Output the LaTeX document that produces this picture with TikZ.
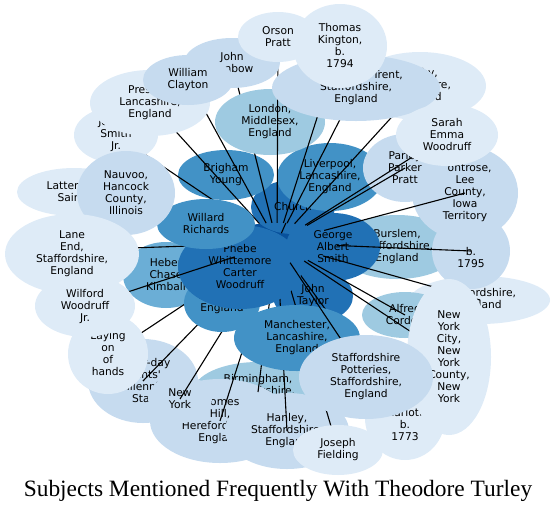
\documentclass[tikz,border=0pt]{standalone}
\usepackage{fontspec}
\usetikzlibrary{shapes.geometric}
\newfontfamily\nodefont{DejaVu Sans}
\newfontfamily\titlefont{Liberation Serif}
\definecolor{bA}{HTML}{DEEBF7}
\definecolor{bB}{HTML}{C6DBEF}
\definecolor{bC}{HTML}{9ECAE1}
\definecolor{bD}{HTML}{6BAED6}
\definecolor{bE}{HTML}{4292C6}
\definecolor{bF}{HTML}{2171B5}
\definecolor{bG}{HTML}{08519C}
\begin{document}
\begin{tikzpicture}[x=1pt,y=-1pt,
  nd/.style={ellipse, draw=none, inner sep=0pt, align=center,
    font=\nodefont\fontsize{10.7}{12}\selectfont, text=black},
  edge/.style={draw=black, line width=1.1pt}]
\useasboundingbox (0,0) rectangle (556,512);
% centre
\node[nd,fill=bG,minimum width=120,minimum height=40] (turley) at (277,243) {};
% lower layer nodes
\node[nd,fill=bF,minimum width=84,minimum height=54] (church) at (293,207) {Church};
\draw[edge] (turley) -- (church);
\node[nd,fill=bE,minimum width=96,minimum height=50] (brigham) at (226,175) {Brigham\\Young};
\node[nd,fill=bE,minimum width=106,minimum height=68] (liverpool) at (330,177) {Liverpool,\\Lancashire,\\England};
\node[nd,fill=bC,minimum width=124,minimum height=64] (burslem) at (397,247) {Burslem,\\Staffordshire,\\England};
\node[nd,fill=bF,minimum width=94,minimum height=68] (george) at (333,247) {George\\Albert\\Smith};
\node[nd,fill=bD,minimum width=86,minimum height=66] (heber) at (166,275) {Heber\\Chase\\Kimball};
\node[nd,fill=bA,minimum width=140,minimum height=48] (staffeng) at (480,300) {Staffordshire,\\England};
\node[nd,fill=bB,minimum width=78,minimum height=76] (b1795) at (471,251) {\strut\\b.\\1795};
\node[nd,fill=bB,minimum width=106,minimum height=94] (montrose) at (465,193) {Montrose,\\Lee\\County,\\Iowa\\Territory};
\node[nd,fill=bB,minimum width=84,minimum height=68] (parley) at (405,168) {Parley\\Parker\\Pratt};
\node[nd,fill=bF,minimum width=80,minimum height=54] (taylor) at (313,296) {John\\Taylor};
\node[nd,fill=bC,minimum width=86,minimum height=46] (alfred) at (405,315) {Alfred\\Cordon};
\node[nd,fill=bC,minimum width=130,minimum height=60] (birmingham) at (258,392) {Birmingham,\\Warwickshire,\\England};
\node[nd,fill=bB,minimum width=110,minimum height=84] (star) at (143,381) {Latter-day\\Saints'\\Millennial\\Star};
\node[nd,fill=bB,minimum width=140,minimum height=84] (fromes) at (220,421) {Fromes\\Hill,\\Herefordshire,\\England};
\node[nd,fill=bB,minimum width=64,minimum height=48] (newyork) at (180,399) {New\\York};
\node[nd,fill=bB,minimum width=124,minimum height=76] (hanley) at (287,431) {Hanley,\\Staffordshire,\\England};
\node[nd,fill=bA,minimum width=132,minimum height=68] (derby) at (420,86) {Derby,\\Derbyshire,\\England};
\coordinate (cbenbow) at (232,63);
\draw[edge] (turley) -- (cbenbow);
\node[nd,fill=bC,minimum width=110,minimum height=66] (london) at (270,122) {London,\\Middlesex,\\England};
% main edges
\foreach \p in {(278,37),(340,46),(356,88),(420,86),(188,80),(150,103),(116,135),(74,192),(126,193),(72,250),(447,135),(405,168),(465,193),(471,251),(480,300),(449,357),(405,315),(108,355),(143,381),(180,399),(220,421),(287,431),(338,450),(258,392),(405,418)}{\draw[edge] (turley) -- \p;}
\node[nd,fill=bE,minimum width=76,minimum height=58] (hereford) at (222,303) {Ledbury,\\England};
\node[nd,fill=bF,minimum width=124,minimum height=84] (phebe) at (240,267) {Phebe\\Whittemore\\Carter\\Woodruff};
\node[nd,fill=bE,minimum width=98,minimum height=50] (willard) at (206,224) {Willard\\Richards};
\node[nd,fill=bE,minimum width=126,minimum height=66] (manchester) at (297,338) {Manchester,\\Lancashire,\\England};
\draw[edge] (turley) -- (85,306);
\draw[edge] (turley) -- (366,377);
% upper layer nodes
\node[nd,fill=bA,minimum width=84,minimum height=56] (jsmith) at (116,135) {Joseph\\Smith\\Jr.};
\node[nd,fill=bA,minimum width=120,minimum height=66] (preston) at (150,103) {Preston,\\Lancashire,\\England};
\node[nd,fill=bA,minimum width=114,minimum height=48] (lds) at (74,192) {Latter-day\\Saints};
\node[nd,fill=bB,minimum width=98,minimum height=84] (nauvoo) at (126,193) {Nauvoo,\\Hancock\\County,\\Illinois};
\node[nd,fill=bA,minimum width=134,minimum height=80] (laneend) at (72,254) {Lane\\End,\\Staffordshire,\\England};
\node[nd,fill=bA,minimum width=80,minimum height=80] (laying) at (108,354) {Laying\\on\\of\\hands};
\node[nd,fill=bA,minimum width=100,minimum height=62] (wilford) at (85,306) {Wilford\\Woodruff\\Jr.};
\node[nd,fill=bB,minimum width=168,minimum height=66] (stoke) at (356,88) {Stoke-upon-Trent,\\Staffordshire,\\England};
\node[nd,fill=bB,minimum width=96,minimum height=50] (benbow) at (cbenbow) {John\\Benbow};
\node[nd,fill=bA,minimum width=80,minimum height=50] (orson) at (278,37) {Orson\\Pratt};
\node[nd,fill=bA,minimum width=94,minimum height=84] (kington) at (340,46) {Thomas\\Kington,\\b.\\1794};
\node[nd,fill=bB,minimum width=90,minimum height=50] (clayton) at (188,80) {William\\Clayton};
\node[nd,fill=bA,minimum width=102,minimum height=62] (sarah) at (447,135) {Sarah\\Emma\\Woodruff};
\node[nd,fill=bA,minimum width=80,minimum height=84] (c1773) at (405,418) {Elizabeth\\Charlotte\\b.\\1773};
\node[nd,fill=bA,minimum width=84,minimum height=156] (nyc) at (449,357) {New\\York\\City,\\New\\York\\County,\\New\\York};
\node[nd,fill=bB,minimum width=134,minimum height=84] (potteries) at (366,377) {Staffordshire\\Potteries,\\Staffordshire,\\England};
\node[nd,fill=bA,minimum width=90,minimum height=50] (fielding) at (338,450) {Joseph\\Fielding};
\node[font=\titlefont\fontsize{23.4}{26}\selectfont, anchor=base] (title) at (278,496) {Subjects Mentioned Frequently With Theodore Turley};
\end{tikzpicture}
\end{document}
